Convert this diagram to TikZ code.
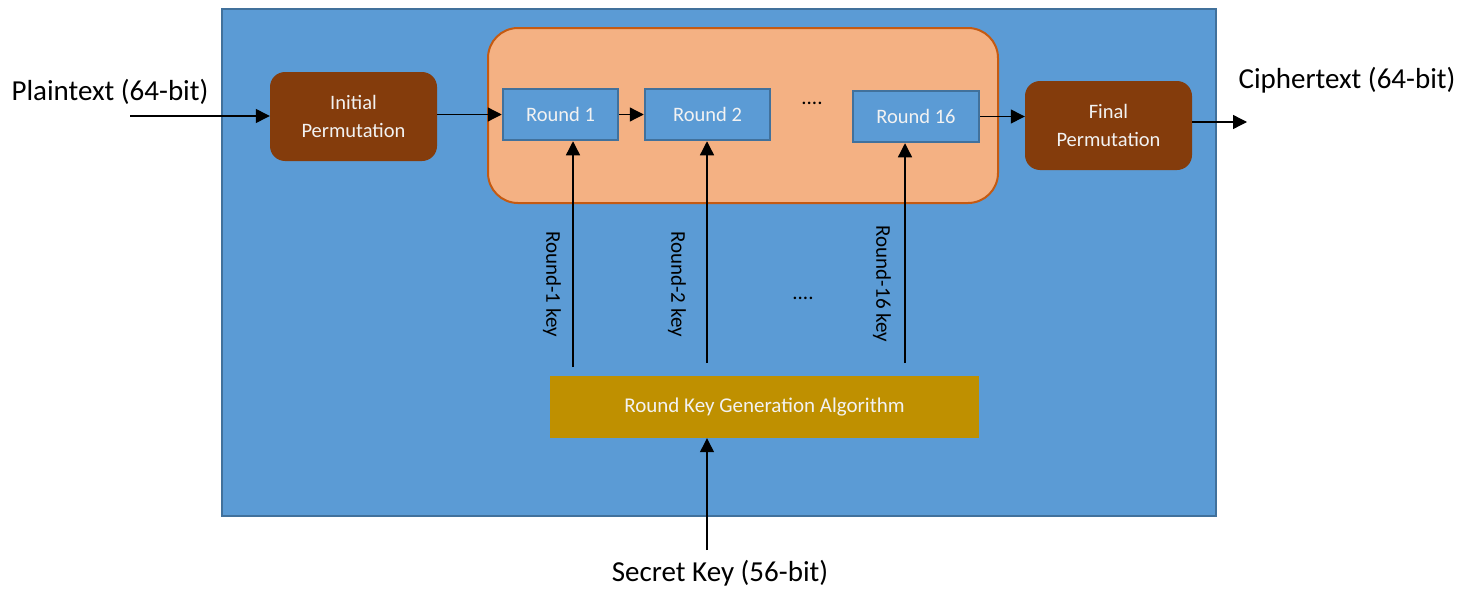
\documentclass[tikz,border=0pt]{standalone}
\usepackage{fontspec}
\setmainfont{Carlito}
\usepackage{tikz}
\usetikzlibrary{arrows.meta,positioning,calc}
\definecolor{bluefill}{HTML}{5B9BD5}
\definecolor{blueline}{HTML}{41719C}
\definecolor{peach}{HTML}{F4B183}
\definecolor{peachline}{HTML}{C55A11}
\definecolor{brown}{HTML}{843C0C}
\definecolor{gold}{HTML}{BF9000}
\definecolor{boxtext}{HTML}{F2F2F2}

\begin{document}
\begin{tikzpicture}[x=1pt,y=-1pt,
  perm/.style={fill=brown,rounded corners=15pt,minimum width=167pt,minimum height=89pt,
               inner sep=0pt,align=center,text=boxtext,font=\fontsize{20.5}{28}\selectfont},
  roundbox/.style={fill=bluefill,draw=blueline,line width=2.5pt,minimum height=51pt,
               inner sep=0pt,text=boxtext,font=\fontsize{20.5}{24}\selectfont},
  big/.style={font=\fontsize{29}{34}\selectfont,inner sep=0pt},
  keylbl/.style={rotate=-90,font=\fontsize{21}{25}\selectfont,inner sep=0pt},
  arr/.style={-{Triangle[length=14pt,width=14pt]},line width=1.3pt}
]
\useasboundingbox (0,0) rectangle (1473,589);
% outer block
\node[fill=bluefill,draw=blueline,line width=2pt,minimum width=994pt,minimum height=507pt,
      inner sep=0pt] (des) at (719,262.5) {};
% container of the 16 rounds
\node[fill=peach,draw=peachline,line width=2pt,rounded corners=30pt,
      minimum width=510pt,minimum height=175pt,inner sep=0pt] (rounds) at (743,115.5) {};

\node[perm] (ip) at (353.5,116.5) {Initial\\Permutation};
\node[perm] (fp) at (1108.5,125.5) {Final\\Permutation};
\node[roundbox,minimum width=115pt] (r1)  at (560.5,114.5) {Round 1};
\node[roundbox,minimum width=125pt] (r2)  at (707.5,114.5) {Round 2};
\node[roundbox,minimum width=126pt] (r16) at (916,116.5)   {Round 16};
\node[fill=gold,minimum width=429pt,minimum height=62pt,inner sep=0pt,text=boxtext,
      font=\fontsize{21}{25}\selectfont] (kgen) at (764.5,407) {Round Key Generation Algorithm};

\node[inner sep=0pt,font=\fontsize{21}{25}\selectfont] (dots1) at (812,103) {....};
\node[inner sep=0pt,font=\fontsize{21}{25}\selectfont] (dots2) at (803,298) {....};

% inputs and outputs
\node[big] (plain)  at (110,92)  {Plaintext (64-bit)};
\node[big] (cipher) at (1347,80) {Ciphertext (64-bit)};
\node[big] (secret) at (720,573) {Secret Key (56-bit)};
\coordinate (pin)  at (130,116);
\coordinate (cout) at (1247,122);
\coordinate (kin)  at (707,550);

% data path
\draw[arr] (pin) -- (pin -| ip.west);
\draw[arr] (ip.east |- r1.west) -- (r1.west);
\draw[arr] (r1) -- (r2);
\draw[arr] (r16.east) -- (r16.east -| fp.west);
\draw[arr] (fp.east |- cout) -- (cout);

% round keys
\coordinate (k1)  at (573,367);
\coordinate (k2)  at (707,363);
\coordinate (k16) at (905,363);
\draw[arr] (k1)  -- (k1 |- r1.south);
\draw[arr] (k2)  -- (k2 |- r2.south);
\draw[arr] (k16) -- (k16 |- r16.south);
\node[keylbl] (l1)  at (552,284) {Round-1 key};
\node[keylbl] (l2)  at (677,284) {Round-2 key};
\node[keylbl] (l16) at (882,284) {Round-16 key};

\draw[arr] (kin) -- (kin |- kgen.south);
\end{tikzpicture}
\end{document}
